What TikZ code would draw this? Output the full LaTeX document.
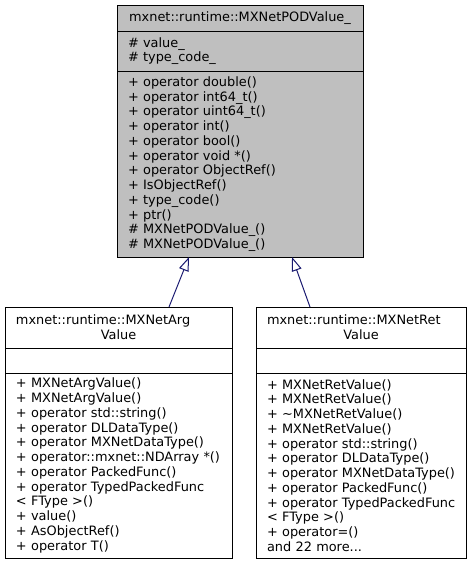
\documentclass[tikz,border=0pt]{standalone}
\usepackage{fontspec}
\setmainfont{DejaVu Sans}
\usepackage{xcolor}
\usetikzlibrary{arrows.meta,positioning}
\definecolor{edgeblue}{HTML}{191970}
\hyphenpenalty=10000
\exhyphenpenalty=10000

\begin{document}
\begin{tikzpicture}[x=1pt, y=-1pt, node distance=0pt]
        \tikzset{part/.style={rectangle, draw=black, line width=1pt, inner xsep=11pt, inner ysep=0pt, outer sep=0pt, anchor=north, align=left, font=\fontsize{12.9}{14.75}\selectfont}}
        \tikzset{podbox/.style={part, fill=black!25, text width=224pt}}
        \tikzset{argbox/.style={part, text width=205pt}}
        \tikzset{retbox/.style={part, text width=188pt}}
        \tikzset{inherit/.style={draw=edgeblue, line width=1pt, -{Triangle[fill=white, length=14pt, width=10pt]}}}

        \useasboundingbox (0,0) rectangle (472,565);

        \node [podbox, align=center, minimum height=26pt] (podt) at (240,5) {mxnet::runtime::MXNetPODValue\_};
        \node [podbox, minimum height=40pt, below=of podt] (poda) {\# value\_\\\# type\_code\_};
        \node [podbox, minimum height=186pt, below=of poda] (podm) {+ operator double()\\+ operator int64\_t()\\+ operator uint64\_t()\\+ operator int()\\+ operator bool()\\+ operator void *()\\+ operator ObjectRef()\\+ IsObjectRef()\\+ type\_code()\\+ ptr()\\\# MXNetPODValue\_()\\\# MXNetPODValue\_()};

        \node [argbox, minimum height=41pt] (argt) at (118.5,307) {mxnet::runtime::MXNetArg\\\hbox to\hsize{\hfil Value\hfil}};
        \node [argbox, minimum height=25pt, below=of argt] (arga) {};
        \node [argbox, minimum height=185pt, below=of arga] (argm) {+ MXNetArgValue()\\+ MXNetArgValue()\\+ operator std::string()\\+ operator DLDataType()\\+ operator MXNetDataType()\\+~operator::mxnet::NDArray~*()\\+ operator PackedFunc()\\+ operator TypedPackedFunc\\< FType >()\\+ value()\\+ AsObjectRef()\\+ operator T()};

        \node [retbox, minimum height=41pt] (rett) at (361,307) {mxnet::runtime::MXNetRet\\\hbox to\hsize{\hfil Value\hfil}};
        \node [retbox, minimum height=25pt, below=of rett] (reta) {};
        \node [retbox, minimum height=185pt, below=of reta] (retm) {+ MXNetRetValue()\\+ MXNetRetValue()\\+ \textasciitilde MXNetRetValue()\\+ MXNetRetValue()\\+~operator~std::string()\\+~operator~DLDataType()\\+~operator~MXNetDataType()\\+~operator~PackedFunc()\\+~operator~TypedPackedFunc\\< FType >()\\+ operator=()\\and 22 more...};

        \draw [inherit] ([xshift=50.5pt]argt.north) -- ([xshift=-51pt]podm.south);
        \draw [inherit] ([xshift=-51pt]rett.north) -- ([xshift=52pt]podm.south);
    \end{tikzpicture}
\end{document}
